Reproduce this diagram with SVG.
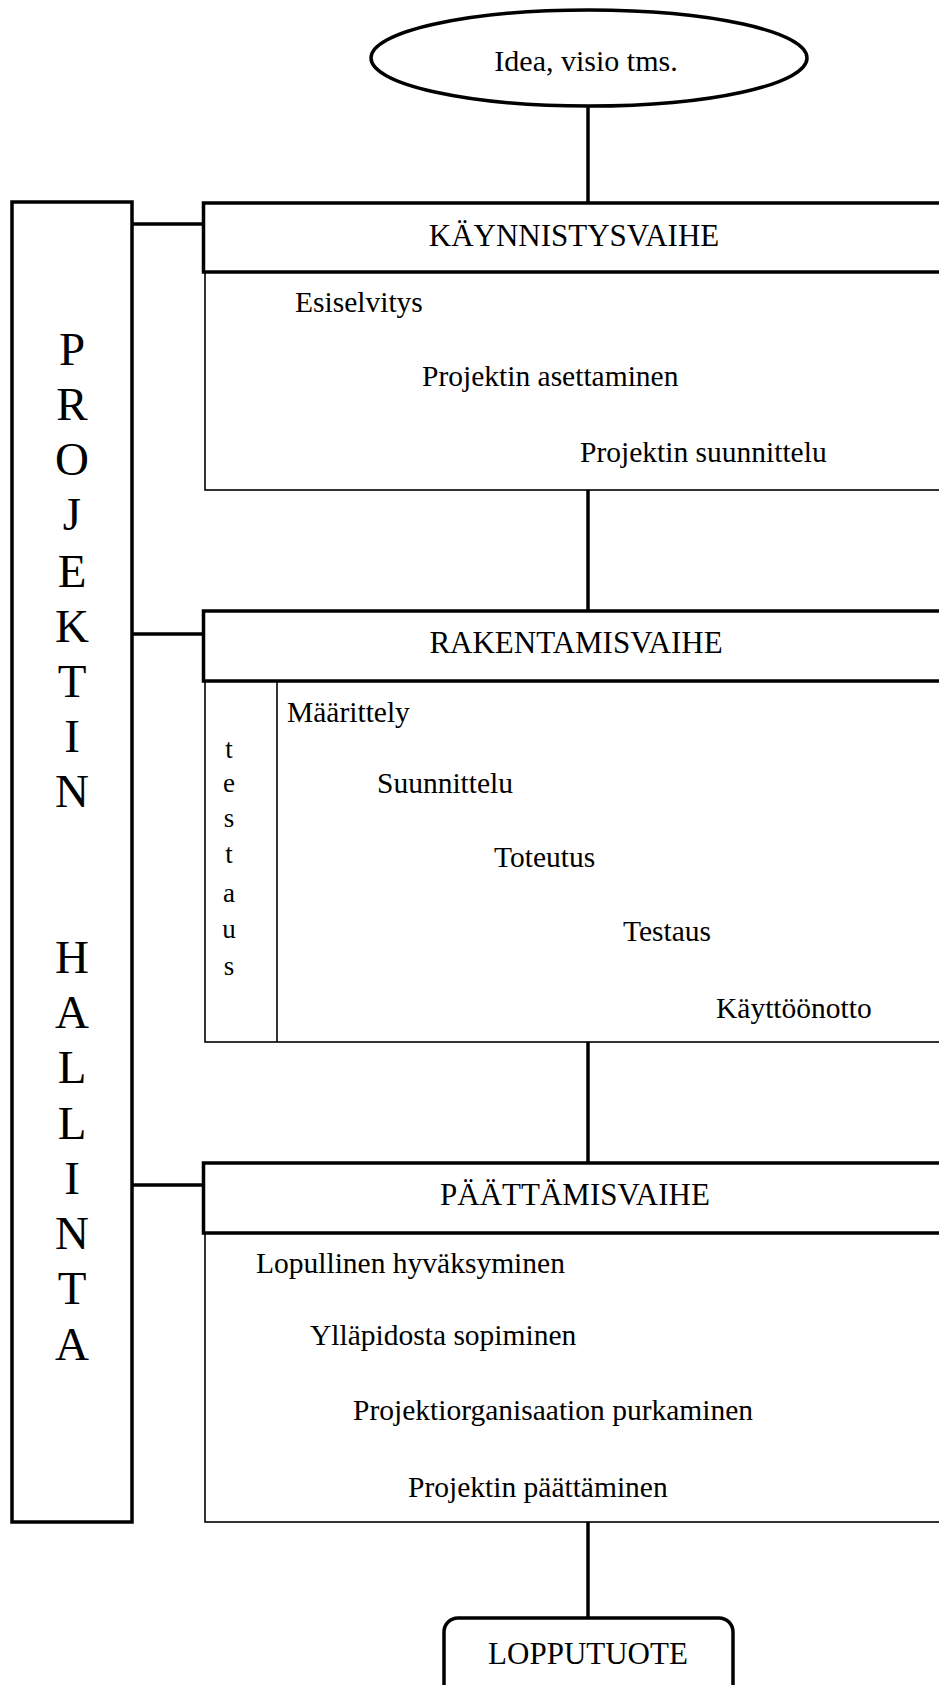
<svg xmlns="http://www.w3.org/2000/svg" width="939" height="1685" viewBox="0 0 939 1685">
  <style>
    text { font-family: "Liberation Serif", "Times New Roman", serif; fill: #000; }
    .item { font-size: 29.5px; }
    .head { font-size: 31px; text-anchor: middle; }
    .col { font-size: 47px; text-anchor: middle; }
    .small { font-size: 27px; text-anchor: middle; }
    .thick { fill: #fff; stroke: #000; stroke-width: 3.5; }
    .thin { fill: #fff; stroke: #000; stroke-width: 1.6; }
    .conn line { stroke: #000; stroke-width: 3.5; }
  </style>
  <rect width="939" height="1685" fill="#fff"/>

  <!-- connectors -->
  <g id="connectors" class="conn">
    <line x1="588" y1="106" x2="588" y2="202"/>
    <line x1="588" y1="490" x2="588" y2="610"/>
    <line x1="588" y1="1042" x2="588" y2="1162"/>
    <line x1="588" y1="1522" x2="588" y2="1617"/>
    <line x1="132" y1="224" x2="203" y2="224"/>
    <line x1="132" y1="634" x2="203" y2="634"/>
    <line x1="132" y1="1185" x2="203" y2="1185"/>
  </g>

  <!-- start: idea -->
  <g id="idea">
    <ellipse class="thick" cx="589" cy="58" rx="218" ry="48"/>
    <text class="head" x="586" y="71" style="font-size:30px">Idea, visio tms.</text>
  </g>

  <!-- project management column -->
  <g id="hallinta">
    <rect class="thick" x="12" y="202" width="120" height="1320"/>
    <text class="col" x="72" y="365">P</text>
    <text class="col" x="72" y="420">R</text>
    <text class="col" x="72" y="475">O</text>
    <text class="col" x="72" y="530">J</text>
    <text class="col" x="72" y="587">E</text>
    <text class="col" x="72" y="642">K</text>
    <text class="col" x="72" y="697">T</text>
    <text class="col" x="72" y="752">I</text>
    <text class="col" x="72" y="807">N</text>
    <text class="col" x="72" y="973">H</text>
    <text class="col" x="72" y="1028">A</text>
    <text class="col" x="72" y="1083">L</text>
    <text class="col" x="72" y="1139">L</text>
    <text class="col" x="72" y="1194">I</text>
    <text class="col" x="72" y="1249">N</text>
    <text class="col" x="72" y="1304">T</text>
    <text class="col" x="72" y="1360">A</text>
  </g>

  <!-- phase 1 -->
  <g id="kaynnistysvaihe">
    <rect class="thin" x="205" y="272" width="760" height="218"/>
    <rect class="thick" x="203.5" y="203" width="760" height="69"/>
    <text class="head" x="574" y="246">KÄYNNISTYSVAIHE</text>
    <text class="item" x="295" y="312">Esiselvitys</text>
    <text class="item" x="422" y="386">Projektin asettaminen</text>
    <text class="item" x="580" y="462">Projektin suunnittelu</text>
  </g>

  <!-- phase 2 -->
  <g id="rakentamisvaihe">
    <rect class="thin" x="205" y="681" width="760" height="361"/>
    <line x1="277" y1="681" x2="277" y2="1042" stroke="#000" stroke-width="1.6"/>
    <rect class="thick" x="203.5" y="611" width="760" height="70"/>
    <text class="head" x="576" y="653">RAKENTAMISVAIHE</text>
    <text class="small" x="229" y="758">t</text>
    <text class="small" x="229" y="792">e</text>
    <text class="small" x="229" y="827">s</text>
    <text class="small" x="229" y="863">t</text>
    <text class="small" x="229" y="902">a</text>
    <text class="small" x="229" y="938">u</text>
    <text class="small" x="229" y="975">s</text>
    <text class="item" x="287" y="722">Määrittely</text>
    <text class="item" x="377" y="793">Suunnittelu</text>
    <text class="item" x="494" y="867">Toteutus</text>
    <text class="item" x="623" y="941">Testaus</text>
    <text class="item" x="716" y="1018">Käyttöönotto</text>
  </g>

  <!-- phase 3 -->
  <g id="paattamisvaihe">
    <rect class="thin" x="205" y="1233" width="760" height="289"/>
    <rect class="thick" x="203.5" y="1163" width="760" height="70"/>
    <text class="head" x="575" y="1205">PÄÄTTÄMISVAIHE</text>
    <text class="item" x="256" y="1273">Lopullinen hyväksyminen</text>
    <text class="item" x="310" y="1345">Ylläpidosta sopiminen</text>
    <text class="item" x="353" y="1420">Projektiorganisaation purkaminen</text>
    <text class="item" x="408" y="1497">Projektin päättäminen</text>
  </g>

  <!-- end product -->
  <g id="lopputuote">
    <rect class="thick" x="444" y="1618" width="289" height="110" rx="14" ry="14"/>
    <text class="head" x="588" y="1664">LOPPUTUOTE</text>
  </g>
</svg>
